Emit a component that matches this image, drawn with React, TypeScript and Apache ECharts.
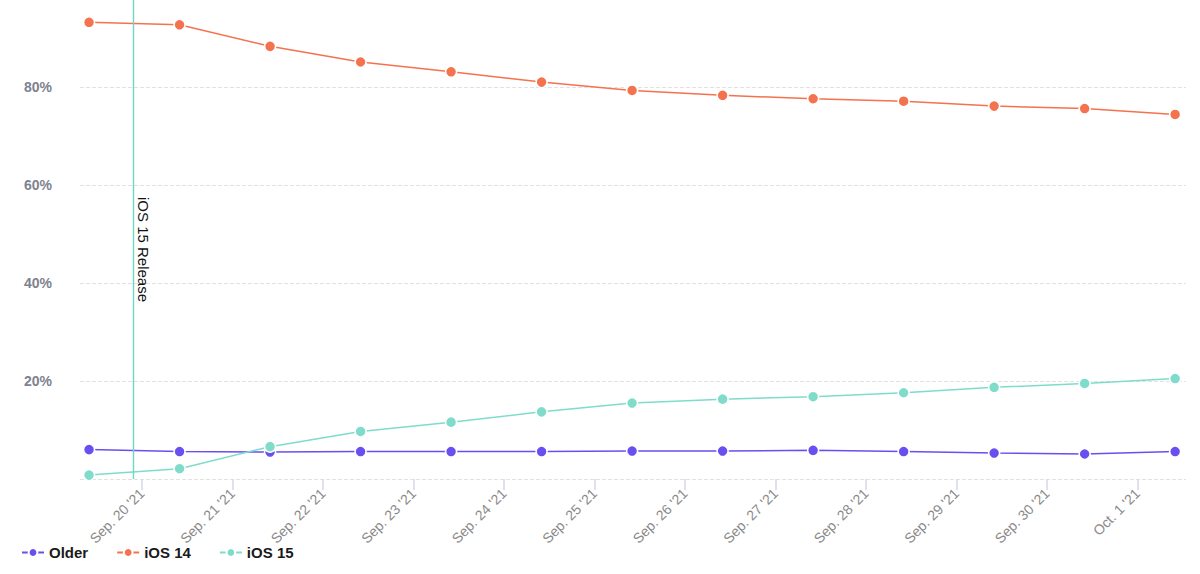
import React, { useEffect, useRef } from "react";
import * as echarts from "echarts";

// Sample times (one reading per day)
const sampleDates = [
  "2021-09-19T10:00:00Z", "2021-09-20T10:00:00Z", "2021-09-21T10:00:00Z",
  "2021-09-22T10:00:00Z", "2021-09-23T10:00:00Z", "2021-09-24T10:00:00Z",
  "2021-09-25T10:00:00Z", "2021-09-26T10:00:00Z", "2021-09-27T10:00:00Z",
  "2021-09-28T10:00:00Z", "2021-09-29T10:00:00Z", "2021-09-30T10:00:00Z",
  "2021-10-01T10:00:00Z",
];

// Series values (% of devices)
const olderValues = [6.0, 5.6, 5.5, 5.6, 5.6, 5.6, 5.7, 5.7, 5.85, 5.6, 5.3, 5.1, 5.6];
const ios14Values = [93.2, 92.7, 88.3, 85.1, 83.1, 81.0, 79.3, 78.3, 77.6, 77.1, 76.1, 75.6, 74.4];
const ios15Values = [0.8, 2.1, 6.6, 9.7, 11.6, 13.7, 15.5, 16.3, 16.8, 17.6, 18.7, 19.5, 20.5];

// X tick dates and labels
const tickDates = [
  "2021-09-20T00:00:00Z", "2021-09-21T00:00:00Z", "2021-09-22T00:00:00Z",
  "2021-09-23T00:00:00Z", "2021-09-24T00:00:00Z", "2021-09-25T00:00:00Z",
  "2021-09-26T00:00:00Z", "2021-09-27T00:00:00Z", "2021-09-28T00:00:00Z",
  "2021-09-29T00:00:00Z", "2021-09-30T00:00:00Z", "2021-10-01T00:00:00Z",
];
const tickLabels = [
  "Sep. 20 '21", "Sep. 21 '21", "Sep. 22 '21", "Sep. 23 '21", "Sep. 24 '21",
  "Sep. 25 '21", "Sep. 26 '21", "Sep. 27 '21", "Sep. 28 '21", "Sep. 29 '21",
  "Sep. 30 '21", "Oct. 1 '21",
];

// Y ticks
const yTicks = [0, 20, 40, 60, 80, 100];

const releaseDate = "2021-09-19T21:50:00Z";
const releaseLabel = "iOS 15 Release";

const seriesNames = ["Older", "iOS 14", "iOS 15"];
const seriesColors = ["#6b4ef0", "#f4724e", "#7fdccb"];

const DAY = 86400000;
const origin = Date.parse(tickDates[0]);
const toDays = (s: string) => (Date.parse(s) - origin) / DAY;

// the chart is drawn 11px taller and shifted up, so its top (100%) sits just above the page
const SHIFT = 11;

export default function App() {
  const ref = useRef<HTMLDivElement>(null);

  useEffect(() => {
    if (!ref.current) return;
    const chart = echarts.init(ref.current, null, { renderer: "svg" });
    const xs = sampleDates.map(toDays);
    const tickDays = tickDates.map(toDays);
    const valuesList = [olderValues, ios14Values, ios15Values];
    const font = "'Liberation Sans', Arial, Helvetica, sans-serif";
    const releaseX = toDays(releaseDate);

    const series: any[] = valuesList.map((vals, si) => ({
      name: seriesNames[si],
      type: "line",
      data: vals.map((v, i) => [xs[i], v]),
      symbol: "circle",
      symbolSize: 11,
      showSymbol: true,
      z: 2 + si,
      lineStyle: { width: 1.5, color: seriesColors[si] },
      itemStyle: { color: seriesColors[si], borderColor: "#fff", borderWidth: 1.5 },
      emphasis: { disabled: true },
    }));
    series.push({
      name: "release",
      type: "line",
      data: [],
      silent: true,
      clip: false,
      markLine: {
        silent: true,
        symbol: ["none", "none"],
        label: { show: false },
        lineStyle: { color: "#6fd8c3", width: 1.4, type: "solid", opacity: 1 },
        data: [
          [
            { coord: [releaseX, yTicks[0]] },
            { coord: [releaseX, yTicks[yTicks.length - 1]] },
          ],
        ],
      },
      z: 1,
    });

    chart.setOption({
      animation: false,
      grid: { left: 80, right: 14, top: 0, bottom: 95 },
      legend: {
        left: 16,
        top: 540 + SHIFT,
        itemWidth: 22,
        itemHeight: 11,
        itemGap: 28,
        data: seriesNames,
        textStyle: { fontFamily: font, fontSize: 15, fontWeight: "bold", color: "#1a1a1a" },
      },
      xAxis: {
        type: "value",
        min: xs[0] - 0.1,
        max: xs[xs.length - 1] + 0.12,
        axisLine: { show: false },
        splitLine: { show: false },
        axisTick: {
          show: true,
          length: 11,
          customValues: tickDays,
          lineStyle: { color: "#d6d6ec", width: 1.5 },
        },
        axisLabel: {
          customValues: tickDays,
          rotate: 45,
          margin: 12,
          color: "#8a8a8a",
          fontSize: 14,
          fontFamily: font,
          formatter: (v: number) => {
            const idx = tickDays.findIndex((d) => Math.abs(d - v) < 0.01);
            return idx >= 0 ? tickLabels[idx] : "";
          },
        },
      },
      yAxis: {
        type: "value",
        min: yTicks[0],
        max: yTicks[yTicks.length - 1],
        interval: yTicks[1] - yTicks[0],
        axisLine: { show: false },
        axisTick: { show: false },
        splitLine: { show: true, lineStyle: { type: "dashed", color: "#e2e2e2", width: 1 } },
        axisLabel: {
          margin: 28,
          color: "#7d8290",
          fontSize: 14,
          fontWeight: "bold",
          fontFamily: font,
          formatter: (v: number) => (v === 0 || v === 100 ? "" : `${v}%`),
        },
      },
      graphic: [
        {
          type: "text",
          x: 143,
          y: 197 + SHIFT,
          rotation: -Math.PI / 2,
          style: {
            text: releaseLabel,
            fontSize: 15,
            fontFamily: font,
            fill: "#111",
            align: "left",
            verticalAlign: "middle",
          },
          z: 10,
        },
      ],
      series,
    });

    return () => chart.dispose();
  }, []);

  return (
    <div
      ref={ref}
      style={{
        position: "fixed",
        left: 0,
        top: -SHIFT,
        width: 1200,
        height: 574 + SHIFT,
        background: "#fff",
      }}
    />
  );
}
